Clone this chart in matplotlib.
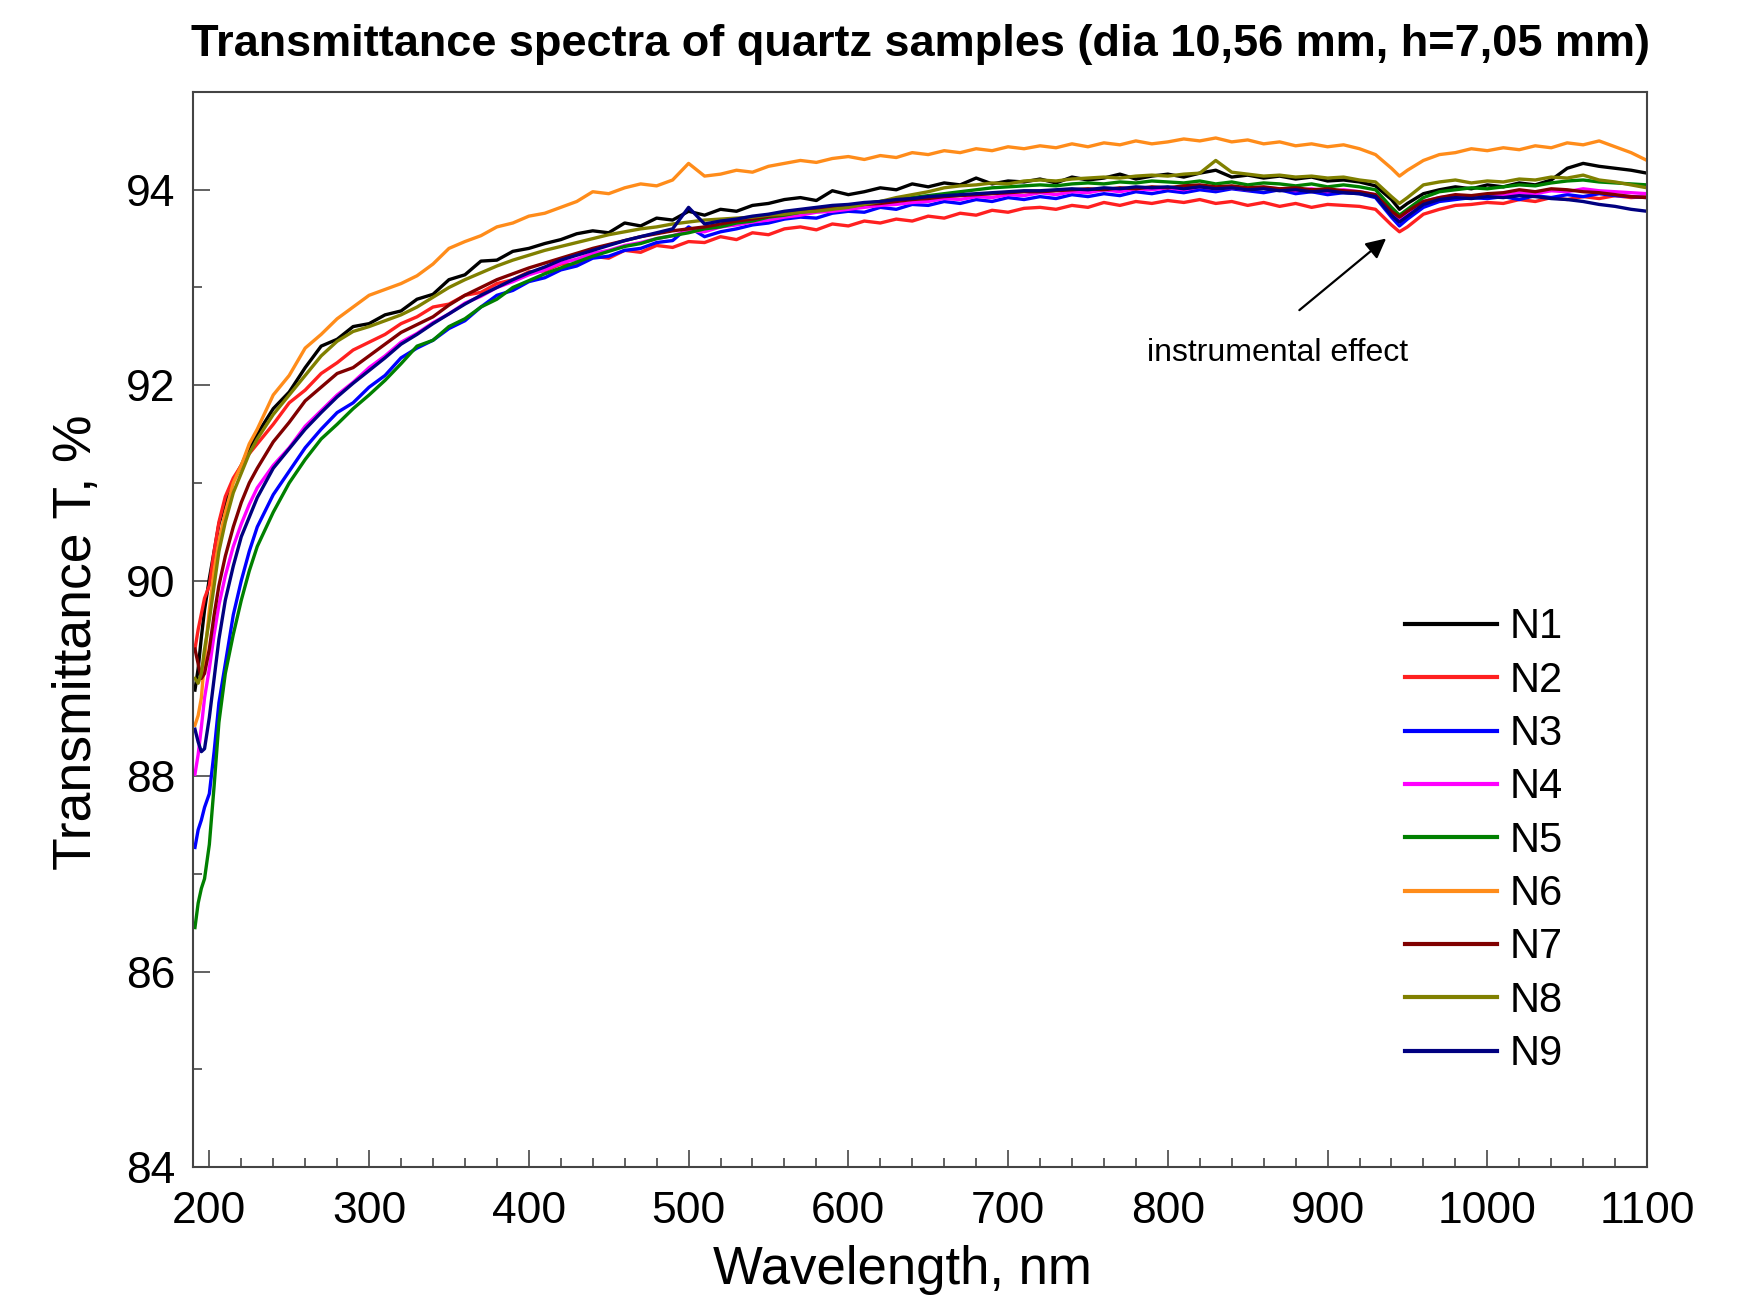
import matplotlib
matplotlib.use("Agg")
import matplotlib.pyplot as plt
from matplotlib.ticker import MultipleLocator

plt.rcParams["font.family"] = ["Liberation Sans", "DejaVu Sans"]

# wavelength grid, nm
wavelength = [191, 193, 195, 197, 200, 203, 206, 210, 215, 220,
              225, 230, 240, 250, 260, 270, 280, 290, 300, 310,
              320, 330, 340, 350, 360, 370, 380, 390, 400, 410,
              420, 430, 440, 450, 460, 470, 480, 490, 500, 510,
              520, 530, 540, 550, 560, 570, 580, 590, 600, 610,
              620, 630, 640, 650, 660, 670, 680, 690, 700, 710,
              720, 730, 740, 750, 760, 770, 780, 790, 800, 810,
              820, 830, 840, 850, 860, 870, 880, 890, 900, 910,
              920, 930, 940, 945, 950, 960, 970, 980, 990, 1000,
              1010, 1020, 1030, 1040, 1050, 1060, 1070, 1080, 1090, 1100]

N1 = [88.88, 89.10, 89.42, 89.70, 90.02, 90.30, 90.58, 90.80, 91.02, 91.18,
      91.36, 91.50, 91.76, 91.93, 92.18, 92.40, 92.47, 92.60, 92.63, 92.72,
      92.76, 92.88, 92.93, 93.08, 93.13, 93.27, 93.28, 93.37, 93.40, 93.45,
      93.49, 93.55, 93.58, 93.56, 93.66, 93.63, 93.71, 93.69, 93.78, 93.74,
      93.80, 93.78, 93.84, 93.86, 93.90, 93.92, 93.89, 93.99, 93.95, 93.98,
      94.02, 94.00, 94.06, 94.03, 94.07, 94.05, 94.12, 94.06, 94.09, 94.08,
      94.11, 94.07, 94.13, 94.10, 94.12, 94.16, 94.11, 94.14, 94.16, 94.13,
      94.17, 94.20, 94.13, 94.15, 94.12, 94.14, 94.11, 94.13, 94.09, 94.10,
      94.08, 94.04, 93.90, 93.80, 93.86, 93.96, 94.00, 94.03, 94.01, 94.05,
      94.03, 94.07, 94.05, 94.10, 94.22, 94.27, 94.24, 94.22, 94.20, 94.17]

N2 = [89.30, 89.50, 89.66, 89.82, 89.95, 90.30, 90.60, 90.86, 91.05, 91.18,
      91.30, 91.40, 91.60, 91.82, 91.95, 92.12, 92.23, 92.36, 92.44, 92.52,
      92.63, 92.70, 92.80, 92.83, 92.92, 92.95, 93.04, 93.08, 93.16, 93.17,
      93.24, 93.23, 93.32, 93.30, 93.38, 93.36, 93.43, 93.41, 93.47, 93.46,
      93.52, 93.49, 93.56, 93.54, 93.60, 93.62, 93.59, 93.65, 93.63, 93.68,
      93.66, 93.70, 93.68, 93.73, 93.71, 93.76, 93.74, 93.79, 93.77, 93.81,
      93.82, 93.80, 93.84, 93.82, 93.87, 93.84, 93.88, 93.86, 93.89, 93.87,
      93.90, 93.86, 93.88, 93.84, 93.87, 93.83, 93.86, 93.82, 93.85, 93.84,
      93.83, 93.80, 93.64, 93.57, 93.62, 93.75, 93.80, 93.84, 93.85, 93.87,
      93.86, 93.90, 93.88, 93.92, 93.90, 93.93, 93.91, 93.94, 93.92, 93.93]

N3 = [87.27, 87.45, 87.55, 87.68, 87.82, 88.25, 88.75, 89.15, 89.65, 90.00,
      90.30, 90.55, 90.88, 91.12, 91.36, 91.55, 91.72, 91.82, 91.98, 92.10,
      92.28, 92.38, 92.46, 92.58, 92.66, 92.80, 92.92, 92.97, 93.06, 93.10,
      93.18, 93.22, 93.30, 93.32, 93.38, 93.40, 93.46, 93.48, 93.62, 93.52,
      93.57, 93.60, 93.64, 93.66, 93.70, 93.72, 93.71, 93.76, 93.78, 93.77,
      93.82, 93.80, 93.85, 93.84, 93.88, 93.86, 93.90, 93.88, 93.92, 93.90,
      93.93, 93.91, 93.95, 93.93, 93.96, 93.94, 93.98, 93.96, 93.99, 93.97,
      94.00, 93.98, 94.01, 93.99, 93.97, 94.00, 93.96, 93.98, 93.95, 93.97,
      93.96, 93.92, 93.72, 93.63, 93.70, 93.82, 93.88, 93.90, 93.92, 93.91,
      93.93, 93.90, 93.94, 93.92, 93.95, 93.93, 93.96, 93.94, 93.93, 93.92]

N4 = [88.02, 88.22, 88.50, 88.80, 89.10, 89.45, 89.75, 90.05, 90.35, 90.58,
      90.78, 90.95, 91.18, 91.36, 91.58, 91.74, 91.90, 92.03, 92.18, 92.30,
      92.44, 92.53, 92.64, 92.73, 92.84, 92.91, 93.00, 93.06, 93.13, 93.18,
      93.25, 93.29, 93.35, 93.38, 93.43, 93.46, 93.50, 93.53, 93.58, 93.57,
      93.62, 93.64, 93.67, 93.69, 93.72, 93.74, 93.77, 93.78, 93.80, 93.82,
      93.84, 93.85, 93.87, 93.88, 93.91, 93.90, 93.93, 93.92, 93.95, 93.94,
      93.97, 93.95, 93.98, 93.97, 94.00, 93.98, 94.01, 94.00, 94.02, 94.00,
      94.03, 94.01, 94.02, 94.00, 94.02, 94.01, 93.99, 94.01, 93.98, 94.00,
      93.98, 93.95, 93.78, 93.70, 93.76, 93.88, 93.92, 93.94, 93.93, 93.95,
      93.94, 93.97, 93.96, 93.99, 93.98, 94.01, 93.99, 93.98, 93.97, 93.96]

N5 = [86.45, 86.70, 86.85, 86.95, 87.30, 87.90, 88.55, 89.05, 89.45, 89.80,
      90.10, 90.35, 90.70, 91.00, 91.24, 91.45, 91.60, 91.76, 91.90, 92.05,
      92.22, 92.40, 92.46, 92.60, 92.68, 92.80, 92.88, 93.00, 93.07, 93.14,
      93.20, 93.26, 93.32, 93.37, 93.42, 93.45, 93.50, 93.53, 93.56, 93.60,
      93.62, 93.66, 93.68, 93.72, 93.74, 93.77, 93.79, 93.82, 93.84, 93.86,
      93.88, 93.90, 93.92, 93.94, 93.96, 93.98, 94.00, 94.02, 94.03, 94.04,
      94.05, 94.04, 94.06, 94.07, 94.06, 94.08, 94.07, 94.09, 94.08, 94.07,
      94.09, 94.06, 94.08, 94.05, 94.07, 94.06, 94.04, 94.06, 94.03, 94.05,
      94.03, 94.00, 93.82, 93.74, 93.80, 93.92, 93.98, 94.00, 94.02, 94.01,
      94.03, 94.05, 94.04, 94.07, 94.09, 94.10, 94.08, 94.07, 94.06, 94.05]

N6 = [88.52, 88.62, 88.80, 89.20, 89.70, 90.10, 90.40, 90.70, 91.00, 91.18,
      91.40, 91.55, 91.90, 92.10, 92.38, 92.52, 92.68, 92.80, 92.92, 92.98,
      93.04, 93.12, 93.24, 93.40, 93.47, 93.53, 93.62, 93.66, 93.73, 93.76,
      93.82, 93.88, 93.98, 93.96, 94.02, 94.06, 94.04, 94.10, 94.27, 94.14,
      94.16, 94.20, 94.18, 94.24, 94.27, 94.30, 94.28, 94.32, 94.34, 94.31,
      94.35, 94.33, 94.38, 94.36, 94.40, 94.38, 94.42, 94.40, 94.44, 94.42,
      94.45, 94.43, 94.47, 94.44, 94.48, 94.46, 94.50, 94.47, 94.49, 94.52,
      94.50, 94.53, 94.49, 94.51, 94.47, 94.49, 94.45, 94.47, 94.44, 94.46,
      94.42, 94.36, 94.22, 94.14, 94.20, 94.30, 94.36, 94.38, 94.42, 94.40,
      94.43, 94.41, 94.45, 94.43, 94.48, 94.46, 94.50, 94.44, 94.38, 94.30]

N7 = [89.30, 89.15, 89.00, 89.05, 89.30, 89.65, 89.95, 90.25, 90.55, 90.80,
      91.00, 91.15, 91.42, 91.62, 91.84, 91.98, 92.12, 92.18, 92.30, 92.42,
      92.54, 92.62, 92.70, 92.82, 92.92, 93.00, 93.08, 93.14, 93.20, 93.25,
      93.30, 93.35, 93.40, 93.44, 93.48, 93.52, 93.55, 93.58, 93.60, 93.62,
      93.65, 93.68, 93.70, 93.73, 93.75, 93.78, 93.80, 93.81, 93.83, 93.85,
      93.86, 93.88, 93.90, 93.91, 93.93, 93.94, 93.95, 93.96, 93.97, 93.98,
      93.98, 93.99, 94.00, 94.01, 94.00, 94.02, 94.01, 94.03, 94.02, 94.04,
      94.05, 94.03, 94.04, 94.02, 94.03, 94.01, 94.02, 94.00, 94.01, 93.99,
      93.98, 93.95, 93.78, 93.72, 93.78, 93.88, 93.92, 93.95, 93.94, 93.96,
      93.97, 94.00, 93.98, 94.01, 94.00, 93.98, 93.97, 93.95, 93.93, 93.92]

N8 = [89.00, 88.95, 89.05, 89.30, 89.60, 89.95, 90.30, 90.60, 90.90, 91.10,
      91.30, 91.45, 91.70, 91.90, 92.10, 92.30, 92.45, 92.55, 92.60, 92.66,
      92.72, 92.80, 92.90, 93.00, 93.08, 93.15, 93.22, 93.28, 93.33, 93.38,
      93.42, 93.46, 93.50, 93.54, 93.57, 93.60, 93.62, 93.65, 93.67, 93.69,
      93.70, 93.71, 93.72, 93.74, 93.75, 93.77, 93.78, 93.80, 93.82, 93.85,
      93.88, 93.92, 93.95, 93.98, 94.02, 94.04, 94.05, 94.07, 94.06, 94.09,
      94.10, 94.09, 94.11, 94.12, 94.13, 94.12, 94.14, 94.15, 94.14, 94.16,
      94.17, 94.30, 94.18, 94.16, 94.14, 94.15, 94.13, 94.14, 94.12, 94.13,
      94.10, 94.08, 93.93, 93.86, 93.92, 94.05, 94.08, 94.10, 94.07, 94.09,
      94.08, 94.11, 94.10, 94.13, 94.12, 94.15, 94.10, 94.08, 94.05, 94.02]

N9 = [88.48, 88.35, 88.25, 88.28, 88.60, 89.00, 89.40, 89.80, 90.15, 90.45,
      90.65, 90.85, 91.15, 91.35, 91.55, 91.72, 91.88, 92.02, 92.15, 92.28,
      92.42, 92.52, 92.63, 92.73, 92.83, 92.92, 93.00, 93.08, 93.15, 93.21,
      93.28, 93.33, 93.38, 93.43, 93.48, 93.52, 93.56, 93.60, 93.82, 93.65,
      93.68, 93.70, 93.73, 93.75, 93.78, 93.80, 93.82, 93.84, 93.85, 93.87,
      93.88, 93.90, 93.91, 93.93, 93.94, 93.95, 93.96, 93.97, 93.98, 93.99,
      93.99, 94.00, 94.01, 94.00, 94.02, 94.01, 94.03, 94.02, 94.03, 94.01,
      94.03, 94.01, 94.02, 94.00, 94.01, 93.99, 94.00, 93.98, 93.99, 93.97,
      93.96, 93.93, 93.74, 93.67, 93.73, 93.85, 93.90, 93.92, 93.91, 93.93,
      93.92, 93.94, 93.93, 93.91, 93.90, 93.88, 93.85, 93.83, 93.80, 93.78]

labels = ["N1", "N2", "N3", "N4", "N5", "N6", "N7", "N8", "N9"]
colors = ["#000000", "#ff2020", "#0000ff", "#ff00ff", "#008000",
          "#ff8c1a", "#800000", "#808000", "#000080"]


def main():
    series = [N1, N2, N3, N4, N5, N6, N7, N8, N9]

    fig = plt.figure(figsize=(17.42, 13.02), dpi=100)
    ax = fig.add_axes([0.111, 0.1037, 0.8345, 0.8256])

    for y, lab, c in zip(series, labels, colors):
        ax.plot(wavelength, y, color=c, lw=2.4, label=lab)

    ax.set_xlim(190, 1100)
    ax.set_ylim(84, 95)
    ax.xaxis.set_major_locator(MultipleLocator(100))
    ax.xaxis.set_minor_locator(MultipleLocator(20))
    ax.yaxis.set_major_locator(MultipleLocator(2))
    ax.yaxis.set_minor_locator(MultipleLocator(1))
    ax.tick_params(which="both", direction="in", top=False, right=False,
                   color="#555555", width=1.3)
    ax.tick_params(which="major", length=12, labelsize=32)
    ax.tick_params(axis="x", which="major", pad=17)
    ax.tick_params(axis="y", which="major", pad=13)
    ax.tick_params(which="minor", length=6.5)
    for sp in ax.spines.values():
        sp.set_color("#444444")
        sp.set_linewidth(1.5)

    ax.set_xlabel("Wavelength, nm", fontsize=38)
    ax.xaxis.set_label_coords(0.488, -0.073)
    ax.set_ylabel("Transmittance T, %", fontsize=38.5)
    ax.yaxis.set_label_coords(-0.063, 0.488)
    ax.set_title("Transmittance spectra of quartz samples (dia 10,56 mm, h=7,05 mm)",
                 fontsize=32.5, fontweight="bold", pad=26)

    ax.annotate("", xy=(938, 93.52), xytext=(881, 92.75),
                arrowprops=dict(arrowstyle="-|>", color="black", lw=1.6,
                                mutation_scale=30))
    ax.text(869, 92.33, "instrumental effect", fontsize=23,
            ha="center", va="center")

    leg = ax.legend(loc="upper left", bbox_to_anchor=(0.822, 0.536),
                    fontsize=30, frameon=False, handlelength=2.2,
                    handletextpad=0.3, labelspacing=0.32, borderaxespad=0)
    for line in leg.get_lines():
        line.set_linewidth(3)

    fig.savefig("out.png", dpi=100)


if __name__ == "__main__":
    main()
